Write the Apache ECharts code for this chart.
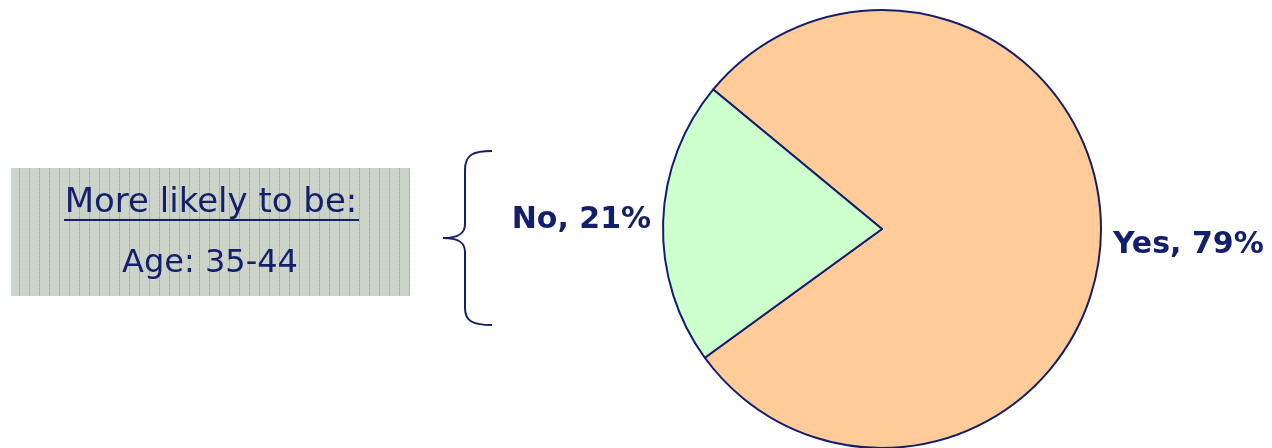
<!DOCTYPE html>
<html>
<head>
<meta charset="utf-8">
<script src="https://cdn.jsdelivr.net/npm/echarts@6/dist/echarts.min.js"></script>
<style>
html,body{margin:0;padding:0;background:#fff;}
#chart{width:1272px;height:448px;}
</style>
</head>
<body>
<div id="chart"></div>
<script>
var categories = ['Yes', 'No'];
var values = [79, 21];
var noteTitle = 'More likely to be:';
var noteLine = 'Age: 35-44';

var navy = '#141f6b';

// stripe pattern for the note box
var pc = document.createElement('canvas');
pc.width = 10; pc.height = 4;
var ctx = pc.getContext('2d');
ctx.fillStyle = '#ccd3c9';
ctx.fillRect(0, 0, 10, 4);
ctx.fillStyle = '#aab3a9';
ctx.fillRect(9, 0, 1, 3);
ctx.fillStyle = '#bcc4ba';
ctx.fillRect(9, 3, 1, 1);

var braceStyle = {fill: 'none', stroke: navy, lineWidth: 2};
var labelShift = [9, -2];

var chart = echarts.init(document.getElementById('chart'), null, {renderer: 'canvas'});
chart.setOption({
  animation: false,
  backgroundColor: '#ffffff',
  series: [{
    type: 'pie',
    center: [882, 229],
    radius: 219,
    startAngle: 140.4,
    clockwise: true,
    silent: true,
    data: categories.map(function (c, i) { return {name: c, value: values[i]}; }),
    itemStyle: { borderColor: navy, borderWidth: 2 },
    color: ['#ffcc99', '#ccffcc'],
    label: {
      show: true,
      position: 'outside',
      formatter: '{b}, {d}%',
      color: navy,
      fontFamily: 'DejaVu Sans',
      fontWeight: 'bold',
      fontSize: 30,
      overflow: 'none',
      edgeDistance: 0
    },
    labelLine: { show: false, length: 5, length2: 2 },
    labelLayout: function (p) { return {dy: labelShift[p.dataIndex]}; }
  }],
  graphic: [
    {
      type: 'rect',
      shape: {x: 11, y: 168, width: 399, height: 128},
      style: {fill: {image: pc, repeat: 'repeat'}}
    },
    {
      type: 'text',
      x: 211, y: 203,
      style: {
        text: noteTitle, fill: navy, fontFamily: 'DejaVu Sans', fontSize: 34,
        align: 'center', verticalAlign: 'middle'
      }
    },
    {
      type: 'line',
      shape: {x1: 64, y1: 220, x2: 359, y2: 220},
      style: {stroke: navy, lineWidth: 2}
    },
    {
      type: 'text',
      x: 210, y: 264,
      style: {
        text: noteLine, fill: navy, fontFamily: 'DejaVu Sans', fontSize: 32,
        align: 'center', verticalAlign: 'middle'
      }
    },
    {type: 'bezierCurve', shape: {x1: 492, y1: 151, cpx1: 474, cpy1: 151, cpx2: 465, cpy2: 154, x2: 465, y2: 170}, style: braceStyle},
    {type: 'line', shape: {x1: 465, y1: 170, x2: 465, y2: 224}, style: braceStyle},
    {type: 'bezierCurve', shape: {x1: 465, y1: 224, cpx1: 465, cpy1: 234, cpx2: 458, cpy2: 238, x2: 443, y2: 238}, style: braceStyle},
    {type: 'bezierCurve', shape: {x1: 443, y1: 238, cpx1: 458, cpy1: 238, cpx2: 465, cpy2: 242, x2: 465, y2: 252}, style: braceStyle},
    {type: 'line', shape: {x1: 465, y1: 252, x2: 465, y2: 308}, style: braceStyle},
    {type: 'bezierCurve', shape: {x1: 465, y1: 308, cpx1: 465, cpy1: 322, cpx2: 474, cpy2: 325, x2: 492, y2: 325}, style: braceStyle}
  ]
});
</script>
</body>
</html>
